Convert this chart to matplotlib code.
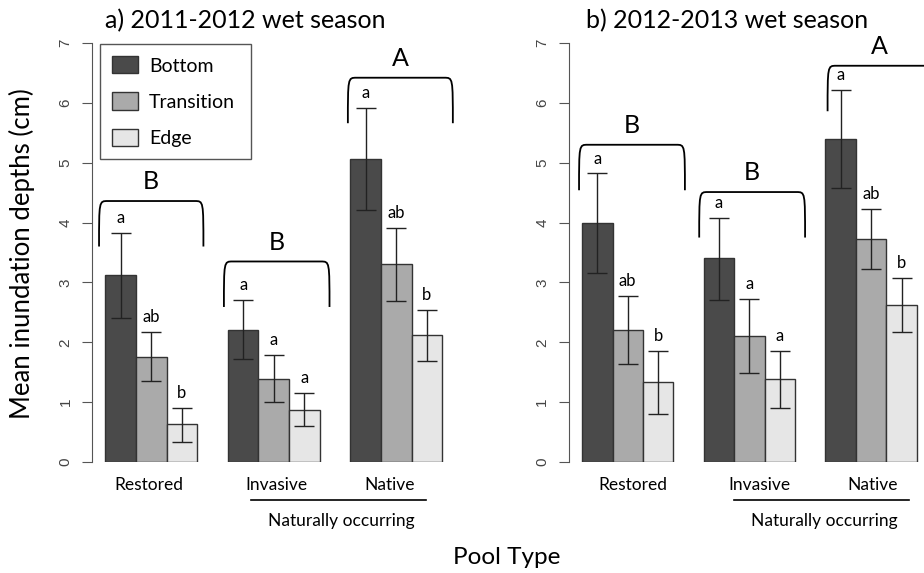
import matplotlib
matplotlib.use("Agg")
import matplotlib.pyplot as plt
from matplotlib.patches import Patch, PathPatch
from matplotlib.path import Path
import numpy as np

plt.rcParams['font.family'] = ['Lato', 'DejaVu Sans']

# data (cm)
pools = ['Restored', 'Invasive', 'Native']
zones = ['Bottom', 'Transition', 'Edge']
zone_colors = ['#4a4a4a', '#aaaaaa', '#e6e6e6']

# 2011-2012: rows = pools, cols = zones
mean_1112 = np.array([[3.12, 1.76, 0.63],
                      [2.20, 1.39, 0.87],
                      [5.06, 3.30, 2.12]])
lo_1112 = np.array([[2.41, 1.35, 0.34],
                    [1.72, 1.01, 0.60],
                    [4.21, 2.69, 1.69]])
hi_1112 = np.array([[3.83, 2.17, 0.91],
                    [2.70, 1.78, 1.15],
                    [5.92, 3.91, 2.54]])
letters_1112 = [['a', 'ab', 'b'], ['a', 'a', 'a'], ['a', 'ab', 'b']]
groups_1112 = ['B', 'B', 'A']
bracket_top_1112 = [4.36, 3.35, 6.42]
bracket_x_1112 = [(0.79, 4.20), (4.87, 8.32), (8.92, 12.35)]

# 2012-2013
mean_1213 = np.array([[3.99, 2.20, 1.33],
                      [3.40, 2.10, 1.39],
                      [5.40, 3.73, 2.62]])
lo_1213 = np.array([[3.15, 1.64, 0.81],
                    [2.70, 1.49, 0.91],
                    [4.58, 3.23, 2.18]])
hi_1213 = np.array([[4.82, 2.77, 1.85],
                    [4.07, 2.73, 1.85],
                    [6.21, 4.23, 3.07]])
letters_1213 = [['a', 'ab', 'b'], ['a', 'a', 'a'], ['a', 'ab', 'b']]
groups_1213 = ['B', 'B', 'A']
bracket_top_1213 = [5.30, 4.51, 6.62]
bracket_x_1213 = [(0.90, 4.38), (4.85, 8.33), (9.07, 12.50)]

W, H = 924, 573
fig = plt.figure(figsize=(W / 100, H / 100), dpi=100)


def bracket(ax, x0, x1, top, leg=0.76, dx=0.28):
    yb = top - leg
    verts = [(x0, yb), (x0, top), (x0, top), (x0 + dx, top),
             (x1 - dx, top),
             (x1, top), (x1, top), (x1, yb)]
    codes = [Path.MOVETO, Path.CURVE4, Path.CURVE4, Path.CURVE4,
             Path.LINETO,
             Path.CURVE4, Path.CURVE4, Path.CURVE4]
    ax.add_patch(PathPatch(Path(verts, codes), fill=False, lw=1.3,
                           edgecolor='black', clip_on=False))


def panel(rect, means, lo, hi, letters, glabels, btops, bxs, nat_x, label_x,
          legend=False):
    ax = fig.add_axes(rect)
    for g in range(3):
        for i in range(3):
            x = 1 + 4 * g + i + 0.5
            ax.bar(x, means[g, i], width=1, color=zone_colors[i],
                   edgecolor='#333333', linewidth=1)
            ax.errorbar(x, means[g, i],
                        yerr=[[means[g, i] - lo[g, i]], [hi[g, i] - means[g, i]]],
                        color='#222222', lw=1, capsize=7, capthick=1)
            ax.text(x, hi[g, i] + 0.25, letters[g][i], ha='center', va='center',
                    fontsize=12)
        x0, x1 = bxs[g]
        bracket(ax, x0, x1, btops[g])
        ax.text((x0 + x1) / 2, btops[g] + 0.32, glabels[g], ha='center',
                va='center', fontsize=18, clip_on=False)
    ax.set_xlim(0.56, 12.44)
    ax.set_ylim(0, 7)
    for s in ['top', 'right', 'bottom']:
        ax.spines[s].set_visible(False)
    ax.spines['left'].set_bounds(0, 7)
    ax.spines['left'].set_color('#555555')
    ax.set_yticks(range(8))
    ax.set_yticklabels([str(v) for v in range(8)], rotation=90, va='center',
                       family='Liberation Sans', fontsize=11, color='#444444')
    ax.tick_params(axis='y', length=7, color='#555555', pad=7)
    ax.set_xticks(label_x)
    ax.set_xticklabels(pools, fontsize=12.5)
    ax.tick_params(axis='x', length=0, pad=11)
    ax.plot(nat_x, [-0.64, -0.64], color='black', lw=1.2, clip_on=False)
    ax.text(np.mean(nat_x) + 0.1, -0.99, 'Naturally occurring', ha='center',
            va='center', fontsize=12.5, clip_on=False)
    if legend:
        handles = [Patch(facecolor=c, edgecolor='#333333', lw=1) for c in zone_colors]
        leg = ax.legend(handles, zones, loc='upper left',
                        bbox_to_anchor=(0.022, 0.997, 0.414, 0.0), mode='expand',
                        borderaxespad=0, fontsize=14, handlelength=1.34,
                        handleheight=0.98, handletextpad=0.55, labelspacing=0.92,
                        borderpad=0.62, fancybox=False, framealpha=1)
        leg.get_frame().set_edgecolor('#555555')
        leg.get_frame().set_linewidth(1)
    return ax


bottom = (H - 462) / H
height = 419 / H
panel([92 / W, bottom, 363.6 / W, height], mean_1112, lo_1112, hi_1112,
      letters_1112, groups_1112, bracket_top_1112, bracket_x_1112,
      [5.75, 11.47], [2.42, 6.57, 10.3], legend=True)
panel([568.7 / W, bottom, 361.4 / W, height], mean_1213, lo_1213, hi_1213,
      letters_1213, groups_1213, bracket_top_1213, bracket_x_1213,
      [5.99, 11.75], [2.66, 6.83, 10.55])

fig.text(245 / W, 1 - 21 / H, 'a) 2011-2012 wet season', ha='center',
         va='center', fontsize=18)
fig.text(727 / W, 1 - 21 / H, 'b) 2012-2013 wet season', ha='center',
         va='center', fontsize=18)
fig.text(22 / W, 1 - 254 / H, 'Mean inundation depths (cm)', rotation=90,
         ha='center', va='center', fontsize=18.5)
fig.text(507 / W, 1 - 557 / H, 'Pool Type', ha='center', va='center',
         fontsize=17.5)

fig.savefig('out.png', dpi=100)
